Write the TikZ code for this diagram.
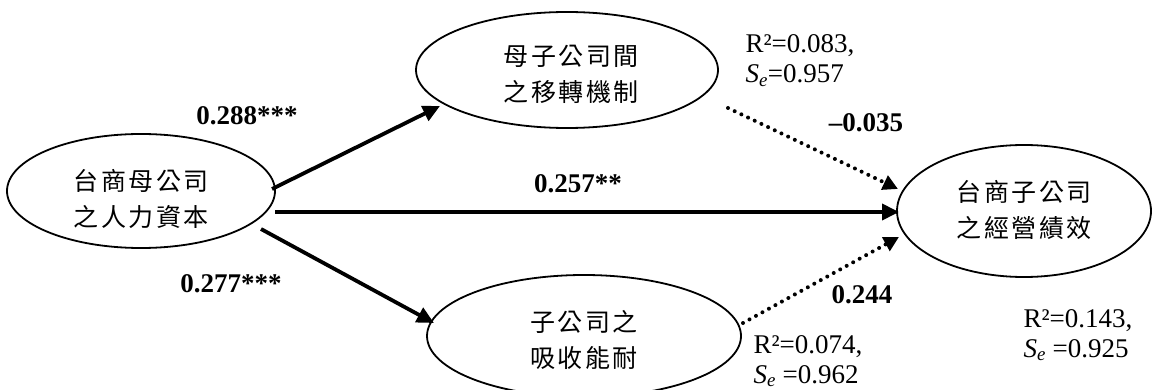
\documentclass[tikz,border=0pt]{standalone}
\usepackage{fontspec}
\setmainfont{Liberation Serif}
\newfontfamily\cjk[LetterSpace=10]{Noto Sans CJK TC}
\usetikzlibrary{shapes.geometric,arrows.meta}
\begin{document}
\begin{tikzpicture}[x=1pt,y=-1pt,
  ell/.style={draw,line width=1.8pt,ellipse,inner sep=0pt},
  cjktext/.style={font=\cjk\fontsize{25}{36}\selectfont,align=center},
  solidarr/.style={line width=3.8pt,-{Triangle[length=17pt,width=16pt]}},
  dotarr/.style={line width=4pt,line cap=round,dash pattern=on 0pt off 7.4pt,-{Triangle[length=15pt,width=15pt]}},
  coef/.style={font=\fontsize{27}{30}\selectfont\bfseries,anchor=base},
  stat/.style={font=\fontsize{27}{30}\selectfont,align=left,anchor=base west}]
\useasboundingbox (0,0) rectangle (1153,390);
\node[ell,minimum width=268pt,minimum height=114pt] (hc) at (141,191) {};
\node[cjktext] at (141,199) {台商母公司\\之人力資本};
\node[ell,minimum width=302pt,minimum height=116pt] (tm) at (567,70) {};
\node[cjktext] at (571,74) {母子公司間\\之移轉機制};
\node[ell,minimum width=314pt,minimum height=122pt] (ac) at (584,336) {};
\node[cjktext] at (584,340) {子公司之\\吸收能耐};
\node[ell,minimum width=254pt,minimum height=132pt] (pf) at (1024,211) {};
\node[cjktext] at (1024,210) {台商子公司\\之經營績效};
\coordinate (a1s) at (272,189);
\coordinate (a1e) at (440,106);
\coordinate (a2s) at (275,212);
\coordinate (a2e) at (899,212);
\coordinate (a3s) at (261,229);
\coordinate (a3e) at (434,323);
\coordinate (d1s) at (728,108);
\coordinate (d1e) at (898,189);
\coordinate (d2s) at (743,323);
\coordinate (d2e) at (899,237);
\draw[solidarr] (a1s) -- (a1e);
\draw[solidarr] (a2s) -- (a2e);
\draw[solidarr] (a3s) -- (a3e);
\draw[dotarr] (d1s) -- (d1e);
\draw[dotarr] (d2s) -- (d2e);
\node[coef] (c1) at (247,125) {0.288***};
\node[coef] (c2) at (578,193) {0.257**};
\node[coef] (c3) at (231,292) {0.277***};
\node[coef] (c4) at (866,132) {--0.035};
\node[coef] (c5) at (862,303) {0.244};
\node[stat] (s1) at (742,83) {R²=0.083,\\\textit{S\textsubscript{e}}=0.957};
\node[stat] (s2) at (750,383) {R²=0.074,\\\textit{S\textsubscript{e}} =0.962};
\node[stat] (s3) at (1020,357) {R²=0.143,\\\textit{S\textsubscript{e}} =0.925};
\end{tikzpicture}
\end{document}
